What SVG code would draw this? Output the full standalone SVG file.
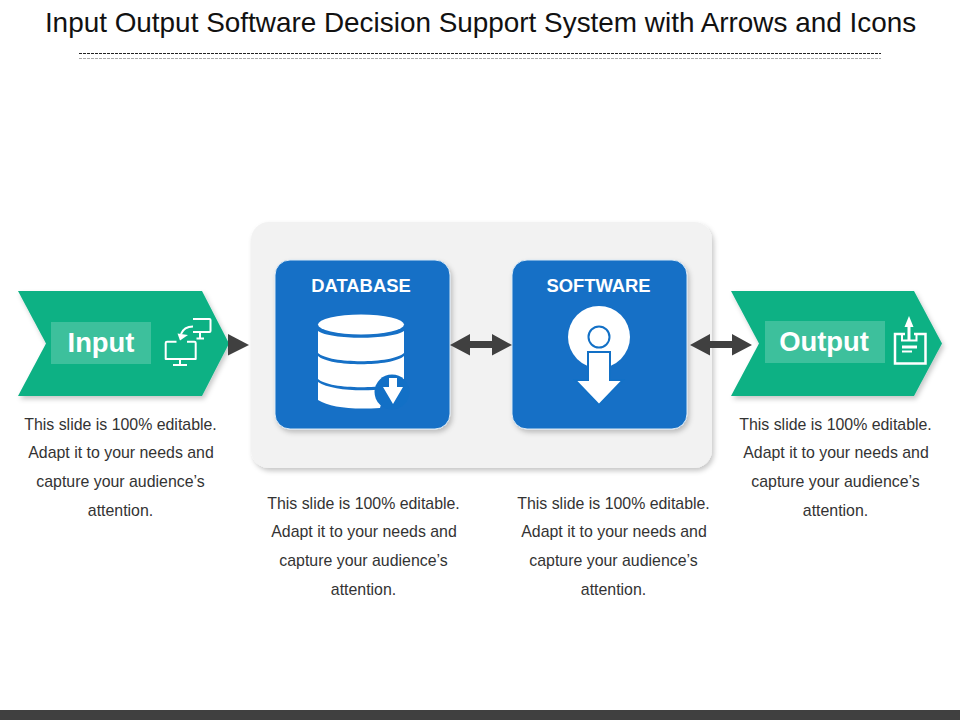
<svg xmlns="http://www.w3.org/2000/svg" width="960" height="720" viewBox="0 0 960 720">
<defs>
<style>
text{font-family:"Liberation Sans",Arial,sans-serif}
.body{font-size:15.9px;fill:#333;text-anchor:middle}
.ttl{font-size:27.9px;fill:#111;text-anchor:middle}
.box{font-size:18.4px;font-weight:bold;fill:#fff;text-anchor:middle}
.lab{font-size:27.4px;font-weight:bold;fill:#fff;text-anchor:middle}
.ln{fill:none;stroke:#fff;stroke-width:2}
.conn{fill:#404040}
</style>
<filter id="sh" x="-10%" y="-10%" width="125%" height="125%"><feDropShadow dx="2" dy="3" stdDeviation="2.5" flood-color="#000" flood-opacity=".22"/></filter>
</defs>
<rect width="960" height="720" fill="#fff"/>
<g id="title">
<text class="ttl" x="480.500" y="32">Input Output Software Decision Support System with Arrows and Icons</text>
<line x1="79" y1="53.500" x2="881" y2="53.500" stroke="#222" stroke-width="1" stroke-dasharray="3 1"/>
<line x1="79" y1="58.500" x2="881" y2="58.500" stroke="#aaa" stroke-width="1" stroke-dasharray="3 1"/>
</g>
<rect id="panel" x="251" y="222" width="461" height="246" rx="18" fill="#f2f2f2" filter="url(#sh)"/>
<g id="input">
<path d="M18 291H202L229 343.500 202 396H18L46 343.500Z" fill="#0db184" filter="url(#sh)"/>
<rect x="51" y="322" width="100" height="42" fill="#3dc09c"/>
<text class="lab" x="101" y="352">Input</text>
<g class="ln" stroke-linejoin="round">
<path d="M193 319H209.500Q210.500 319 210.500 320V331Q210.500 332 209.500 332H193"/><path d="M200 332V338M196.500 338.500H204"/>
<path d="M193 326.500Q184 326.500 181 334"/>
<path d="M176.500 341.700H167Q165.700 341.700 165.700 343V359H195.700V343Q195.700 341.700 194.500 341.700H187"/><path d="M180 359V365M173 365H187"/>
</g>
<path d="M177.500 333.500L188 335 180 340.500Z" fill="#fff"/>
</g>
<g id="database">
<rect x="275" y="260" width="175" height="169" rx="15" fill="#1270c6" stroke="#d9e8f5" stroke-width="1" filter="url(#sh)"/>
<text class="box" x="361" y="291.500">DATABASE</text>
<ellipse cx="361" cy="324.500" rx="43" ry="10" fill="#fff"/>
<path d="M318 331C330 340 392 340 404 331V353C392 364 330 364 318 353Z" fill="#fff"/>
<path d="M318 356C330 367 392 367 404 356V379C392 390 330 390 318 379Z" fill="#fff"/>
<path d="M318 382C330 390 360 392 385 389L380 408C350 410 330 407 318 400Z" fill="#fff"/>
<circle cx="392" cy="392" r="17.500" fill="#1270c6"/>
<path d="M389 378H397V387H403L393 404 383 387H389Z" fill="#fff"/>
</g>
<g id="software">
<rect x="512" y="260" width="175" height="169" rx="15" fill="#1270c6" stroke="#d9e8f5" stroke-width="1" filter="url(#sh)"/>
<text class="box" x="598.500" y="291.500">SOFTWARE</text>
<circle cx="599" cy="337" r="31" fill="#fff"/>
<circle cx="599" cy="337" r="10.500" fill="#fff" stroke="#1270c6" stroke-width="2"/>
<path d="M588 352H610V380H623L599 405 575 380H588Z" fill="#fff" stroke="#1270c6" stroke-width="2"/>
</g>
<g id="output">
<path d="M731 291H914L942 343.500 914 396H731L759 343.500Z" fill="#0db184" filter="url(#sh)"/>
<rect x="765" y="321" width="120" height="42" fill="#3dc09c"/>
<text class="lab" x="824" y="351">Output</text>
<g class="ln">
<path d="M905 334H895V363.500H925.500V334H914" stroke-width="2.500"/>
<path d="M902 334.500V340.500H916.500V334.500"/>
<path d="M909 340V325" stroke-width="3"/>
</g>
<path d="M904.500 327L909 316 913.500 327Z" fill="#fff"/>
<path d="M902 345.500H917V348.500H902ZM902 350.500H912V352.500H902Z" fill="#fff"/>
</g>
<g id="connectors" class="conn">
<path d="M228 334L249 345 228 355.500Z"/>
<path d="M450 345L470 334V341H492V334L512 345 492 355.500V348H470V355.500Z"/>
<path d="M690 345L710 334V341H732V334L752 345 732 355.500V348H710V355.500Z"/>
</g>
<g id="note-input" class="body">
<text x="120.500" y="430">This slide is 100% editable.</text>
<text x="121" y="458">Adapt it to your needs and</text>
<text x="120.500" y="487">capture your audience’s</text>
<text x="120.500" y="516">attention.</text>
</g>
<g id="note-database" class="body">
<text x="363.500" y="509">This slide is 100% editable.</text>
<text x="364" y="537">Adapt it to your needs and</text>
<text x="363.500" y="566">capture your audience’s</text>
<text x="363.500" y="595">attention.</text>
</g>
<g id="note-software" class="body">
<text x="613.500" y="509">This slide is 100% editable.</text>
<text x="614" y="537">Adapt it to your needs and</text>
<text x="613.500" y="566">capture your audience’s</text>
<text x="613.500" y="595">attention.</text>
</g>
<g id="note-output" class="body">
<text x="835.500" y="430">This slide is 100% editable.</text>
<text x="836" y="458">Adapt it to your needs and</text>
<text x="835.500" y="487">capture your audience’s</text>
<text x="835.500" y="516">attention.</text>
</g>
<rect id="footer" x="0" y="710" width="960" height="10" fill="#404040"/>
</svg>
